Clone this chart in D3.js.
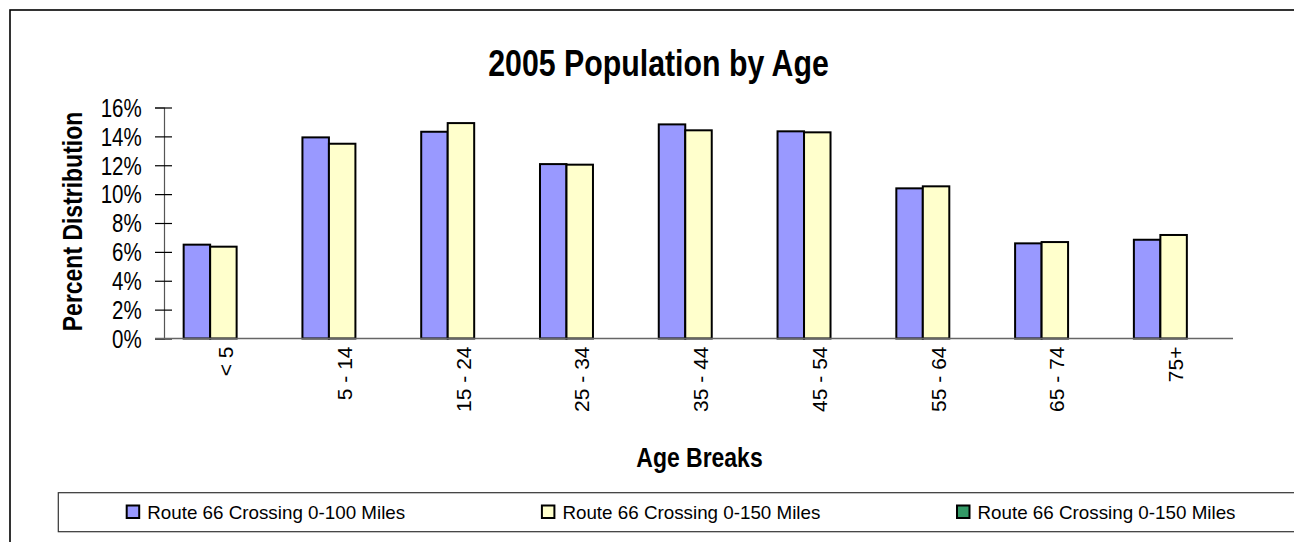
<!DOCTYPE html>
<html><head><meta charset="utf-8">
<script src="https://cdn.jsdelivr.net/npm/d3@7"></script>
<style>
html,body{margin:0;padding:0;background:#fff;overflow:hidden}
svg{display:block}
</style></head>
<body>
<svg id="chart" width="1294" height="542"></svg>
<script>
const categories = ["< 5","5 - 14","15 - 24","25 - 34","35 - 44","45 - 54","55 - 64","65 - 74","75+"];
const seriesNames = ["Route 66 Crossing 0-100 Miles","Route 66 Crossing 0-150 Miles","Route 66 Crossing 0-150 Miles"];
const series100 = [6.50, 13.93, 14.32, 12.08, 14.83, 14.35, 10.40, 6.59, 6.84];
const series150 = [6.36, 13.49, 14.92, 12.04, 14.42, 14.28, 10.54, 6.68, 7.17];
const series150b = [null, null, null, null, null, null, null, null, null];
const yTicks = [0, 2, 4, 6, 8, 10, 12, 14, 16];
const colors = ["#9999FF", "#FFFFCC", "#339966"];

const allSeries = [series100, series150, series150b];
const FONT = "'Liberation Sans',Arial,sans-serif";

// emulate a narrow face by compressing glyphs horizontally
function narrow(sel, k) {
  sel.each(function() {
    const len = this.getComputedTextLength();
    d3.select(this).attr("textLength", len * k).attr("lengthAdjust", "spacingAndGlyphs");
  });
}

const svg = d3.select("#chart");

// outer chart border (cut off right and bottom)
svg.append("rect").attr("x",10).attr("y",10).attr("width",1400).attr("height",700)
  .attr("fill","#fff").attr("stroke","#000").attr("stroke-width",1.6);

const x = d3.scaleBand().domain(categories).range([164, 1233]).paddingInner(0.331).paddingOuter(0.1655);
const xs = d3.scaleBand().domain([0,1,2]).range([0, x.bandwidth()]);
const y = d3.scaleLinear().domain([0, 16]).range([338.5, 107.5]);

// title
svg.append("text").attr("x",658.5).attr("y",75.5).attr("text-anchor","middle")
  .style("font-family",FONT).style("font-weight","bold").style("font-size","36.5px")
  .text("2005 Population by Age").call(narrow, 0.83);

// bars
const groups = svg.append("g").selectAll("g").data(categories).join("g")
  .attr("transform", d => `translate(${x(d)},0)`);
groups.selectAll("rect").data((d,i) => allSeries.map((s,k) => ({k, v:s[i]})).filter(o => o.v != null))
  .join("rect")
  .attr("x", o => xs(o.k)).attr("width", xs.bandwidth())
  .attr("y", o => y(o.v)).attr("height", o => y(0) - y(o.v))
  .attr("fill", o => colors[o.k]).attr("stroke","#000").attr("stroke-width",2);

// y axis
const yAxis = d3.axisLeft(y).tickValues(yTicks).tickFormat(d => d + "%").tickSize(9).tickPadding(13);
const ya = svg.append("g").attr("transform","translate(164,0)").call(yAxis);
ya.select(".domain").attr("stroke","#555").attr("stroke-width",1.2);
ya.selectAll(".tick line").attr("stroke","#000").attr("stroke-width",1.2).attr("x2",8).attr("x1",-9);
ya.selectAll(".tick text").style("font-family",FONT).style("font-size","25px").attr("fill","#000")
  .attr("x",-22.3).attr("dy","0.35em").call(narrow, 0.82);

// x axis
const xAxis = d3.axisBottom(x).tickSize(0).tickSizeOuter(0);
const xa = svg.append("g").attr("transform","translate(0,338.5)").call(xAxis);
xa.select(".domain").remove();
xa.append("line").attr("x1",155).attr("x2",1233).attr("y1",0).attr("y2",0).attr("stroke","#666").attr("stroke-width",1.5);
xa.selectAll(".tick text").style("font-family",FONT).style("font-size","21px").attr("fill","#000")
  .attr("text-anchor","end").attr("transform","rotate(-90)").attr("x",-8).attr("y",2).attr("dy","0.36em");

// axis titles
svg.append("text").attr("transform","translate(81.5,221.5) rotate(-90)").attr("text-anchor","middle")
  .style("font-family",FONT).style("font-weight","bold").style("font-size","28px")
  .text("Percent Distribution").call(narrow, 0.82);
svg.append("text").attr("x",699.5).attr("y",467).attr("text-anchor","middle")
  .style("font-family",FONT).style("font-weight","bold").style("font-size","28px")
  .text("Age Breaks").call(narrow, 0.82);

// legend
svg.append("rect").attr("x",58.3).attr("y",492.7).attr("width",1400).attr("height",39)
  .attr("fill","#fff").attr("stroke","#333").attr("stroke-width",1.2);
const legendX = [126.7, 541.9, 957];
const lg = svg.append("g").selectAll("g").data(seriesNames).join("g")
  .attr("transform",(d,i)=>`translate(${legendX[i]},505.5)`);
lg.append("rect").attr("width",12.5).attr("height",12.5).attr("fill",(d,i)=>colors[i]).attr("stroke","#000").attr("stroke-width",2);
lg.append("text").attr("x",20.5).attr("y",13).style("font-family",FONT).style("font-size","19px")
  .text(d=>d).attr("textLength",258).attr("lengthAdjust","spacingAndGlyphs");
</script>
</body></html>
